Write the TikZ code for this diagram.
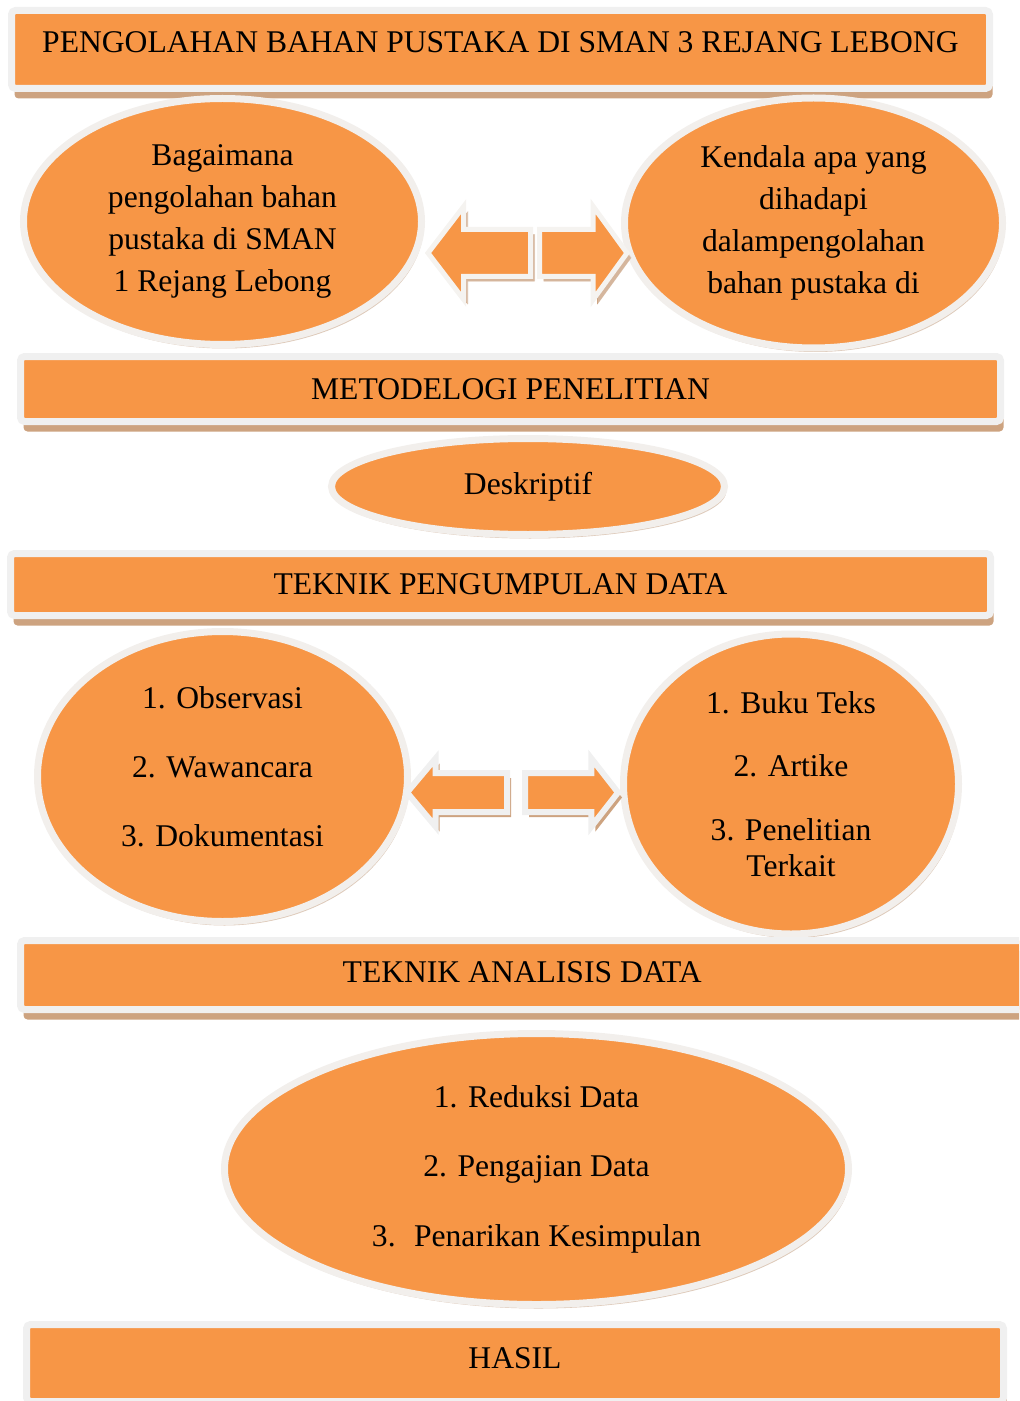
\documentclass[tikz,border=0pt]{standalone}
\usepackage{fontspec}
\setmainfont{Liberation Serif}
\usepackage{tikz}
\usetikzlibrary{shapes, arrows.meta, shadows}
\definecolor{boxorange}{RGB}{247,150,70}
\definecolor{rimgray}{RGB}{240,240,240}
\definecolor{rimpale}{RGB}{245,243,240}
\definecolor{shadowbrown}{RGB}{205,163,128}
\definecolor{ovalrim}{RGB}{242,239,236}
\definecolor{ovalshadow}{RGB}{222,202,186}
\tikzstyle{banner} = [rectangle, rounded corners=2pt, fill=boxorange, draw=rimgray, line width=3.5pt, inner sep=0pt, drop shadow={fill=shadowbrown, opacity=1, shadow xshift=1.5pt, shadow yshift=-5pt}]
\tikzstyle{oval} = [ellipse, fill=boxorange, draw=ovalrim, line width=3.5pt, inner sep=0pt, align=center, drop shadow={fill=ovalshadow, opacity=1, shadow xshift=1pt, shadow yshift=-2pt}]
\tikzstyle{blockarrow} = [single arrow, fill=boxorange, draw=rimgray, line width=3pt, inner xsep=0pt, anchor=tail, drop shadow={fill=shadowbrown, opacity=1, shadow xshift=2pt, shadow yshift=-2.5pt}]

\begin{document}
\begin{tikzpicture}[x=0.5pt, y=-0.5pt, font=\fontsize{15.8pt}{21pt}\selectfont]
\useasboundingbox (0,0) rectangle (1019,1401);
\clip (0,0) rectangle (1019,1401);
% judul
\node (judul) [banner, minimum width=489pt, minimum height=39pt, text depth=7pt] at (500.5,49.5) {PENGOLAHAN BAHAN PUSTAKA DI SMAN 3 REJANG LEBONG};
% rumusan masalah
\node (rumusan) [oval, minimum width=199pt, minimum height=123pt] at (222.5,221.5) {Bagaimana\\pengolahan bahan\\pustaka di SMAN\\1 Rejang Lebong};
\node (kendala) [oval, minimum width=189pt, minimum height=125pt] at (813.5,223) {Kendala apa yang\\dihadapi\\dalampengolahan\\bahan pustaka di};
\node (kiri1) [blockarrow, shape border rotate=180, draw=rimpale, line width=2.5pt, minimum height=51.25pt, inner ysep=10.5pt, single arrow head extend=11.5pt, single arrow tip angle=105, drop shadow={fill=ovalshadow}] at (533,253) {};
\node (kanan1) [blockarrow, draw=rimpale, line width=2.5pt, minimum height=43.75pt, inner ysep=10.5pt, single arrow head extend=11.5pt, single arrow tip angle=108, drop shadow={fill=ovalshadow}] at (537,253) {};
% metodologi
\node (metode) [banner, minimum width=490pt, minimum height=32.5pt] at (510.5,389) {METODELOGI PENELITIAN};
\node (deskriptif) [oval, minimum width=196.5pt, minimum height=48pt] at (528,486.5) {Deskriptif};
% pengumpulan data
\node (teknik) [banner, minimum width=490pt, minimum height=31pt] at (500.5,584.5) {TEKNIK PENGUMPULAN DATA};
\node (cara) [oval, minimum width=185pt, minimum height=145pt, text depth=10pt] at (222.5,776.5) {1. Observasi\\[13.5pt]2. Wawancara\\[13.5pt]3. Dokumentasi};
\node (sumber) [oval, minimum width=167.5pt, minimum height=150pt] at (791,784) {1. Buku Teks\\[10.75pt]2. Artike\\[10.75pt]3. Penelitian\\[-3pt]Terkait};
\node (kiri2) [blockarrow, shape border rotate=180, minimum height=50pt, inner ysep=8.25pt, single arrow head extend=7.25pt, single arrow tip angle=100] at (510,792.5) {};
\node (kanan2) [blockarrow, minimum height=46.5pt, inner ysep=8.25pt, single arrow head extend=7.25pt, single arrow tip angle=104] at (522,792.5) {};
% analisis data
\node (analisis) [banner, minimum width=501.75pt, minimum height=34.5pt, text depth=3pt] at (522.25,975) {TEKNIK ANALISIS DATA};
\node (langkah) [oval, minimum width=312pt, minimum height=135.5pt] at (536.5,1169) {1. Reduksi Data\\[13.75pt]2. Pengajian Data\\[13.75pt]3.~ Penarikan Kesimpulan};
% hasil
\node (hasil) [banner, minimum width=488.5pt, minimum height=38.5pt, text depth=4.5pt] at (515,1363) {HASIL};
\end{tikzpicture}
\end{document}
